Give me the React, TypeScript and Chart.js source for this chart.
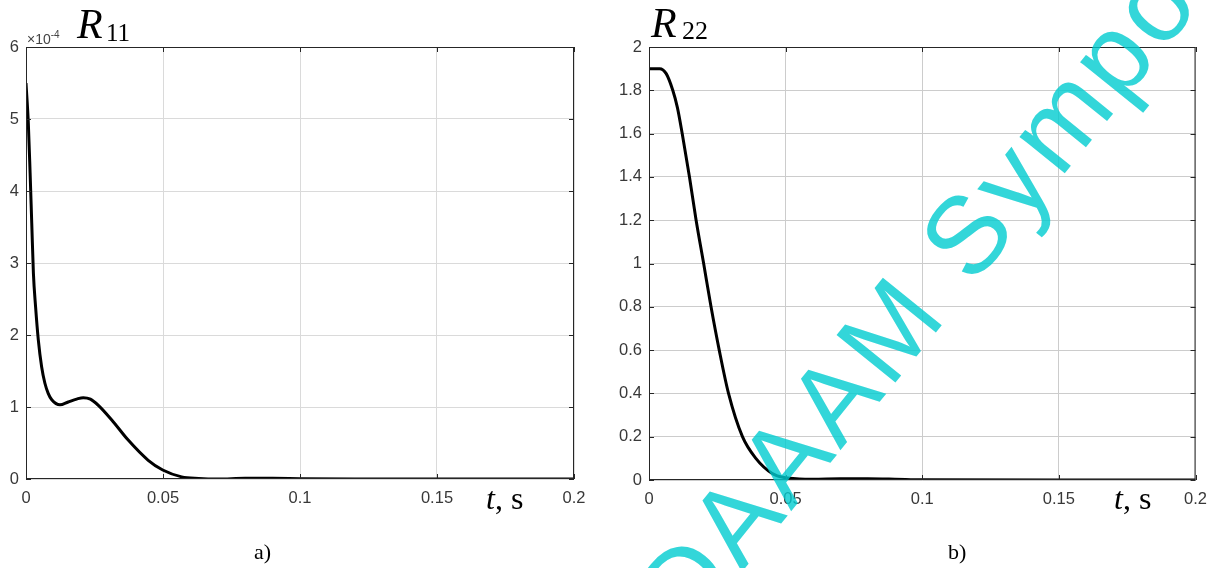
import React, { useEffect, useRef } from "react";
import { Chart, registerables } from "chart.js";

Chart.register(...registerables);

// ---- data ----
const X_TICKS = [0, 0.05, 0.1, 0.15, 0.2];
const X_TICK_LABELS = ["0", "0.05", "0.1", "0.15", "0.2"];

// R11 (values in units of 1e-4)
const T11 = [0, 0.00085, 0.0015, 0.0021, 0.0027, 0.0035, 0.0045, 0.0057, 0.0069, 0.0081, 0.0094, 0.0124, 0.0154, 0.0185, 0.0209, 0.0235, 0.0265, 0.0313, 0.0373, 0.0446, 0.0499, 0.0568, 0.063, 0.07, 0.08, 0.09, 0.1, 0.12, 0.15, 0.2];
const R11 = [5.5, 4.94, 4.25, 3.55, 2.86, 2.39, 1.93, 1.56, 1.33, 1.19, 1.1, 1.03, 1.07, 1.11, 1.13, 1.11, 1.02, 0.82, 0.54, 0.26, 0.125, 0.03, 0.008, 0.0, 0.01, 0.01, 0.005, 0.0, 0.0, 0.0];
const Y11_TICKS = [0, 1, 2, 3, 4, 5, 6];

// R22
const T22 = [0, 0.002, 0.0039, 0.0063, 0.0087, 0.0104, 0.01215, 0.01481, 0.01724, 0.02, 0.0227, 0.0257, 0.0291, 0.0342, 0.0391, 0.0451, 0.05, 0.055, 0.06, 0.07, 0.08, 0.09, 0.1, 0.15, 0.2];
const R22 = [1.9, 1.9, 1.9, 1.877, 1.8, 1.72, 1.6, 1.4, 1.2, 1.0, 0.8, 0.6, 0.4, 0.2, 0.1, 0.03, 0.01, 0.005, 0.004, 0.006, 0.006, 0.004, 0.001, 0, 0];
const Y22_TICKS = [0, 0.2, 0.4, 0.6, 0.8, 1, 1.2, 1.4, 1.6, 1.8, 2];
const Y22_TICK_LABELS = ["0", "0.2", "0.4", "0.6", "0.8", "1", "1.2", "1.4", "1.6", "1.8", "2"];

const AXIS_COLOR = "#262626";
const TICK_FONT = { family: "'Liberation Sans', Arial, sans-serif", size: 16.5 };

const boxPlugin = {
  id: "boxTicks",
  afterDatasetsDraw(chart: any) {
    const { ctx, chartArea, scales } = chart;
    const { left, right, top, bottom } = chartArea;
    ctx.save();
    ctx.strokeStyle = AXIS_COLOR;
    ctx.lineWidth = 1;
    ctx.strokeRect(left + 0.5, top + 0.5, right - left - 1, bottom - top - 1);
    ctx.beginPath();
    scales.x.ticks.forEach((t: any) => {
      const px = Math.round(scales.x.getPixelForValue(t.value)) + 0.5;
      ctx.moveTo(px, bottom);
      ctx.lineTo(px, bottom - 5);
      ctx.moveTo(px, top);
      ctx.lineTo(px, top + 5);
    });
    scales.y.ticks.forEach((t: any) => {
      const py = Math.round(scales.y.getPixelForValue(t.value)) + 0.5;
      ctx.moveTo(left, py);
      ctx.lineTo(left + 5, py);
      ctx.moveTo(right, py);
      ctx.lineTo(right - 5, py);
    });
    ctx.stroke();
    ctx.restore();
  },
};

type PlotProps = {
  t: number[];
  v: number[];
  yTicks: number[];
  yLabels: string[];
  yMax: number;
  width: number;
  height: number;
  yAxisW: number;
  padRight: number;
  padTop: number;
  padBottom: number;
  gridColor: string;
};

function Plot(p: PlotProps) {
  const ref = useRef<HTMLCanvasElement | null>(null);
  useEffect(() => {
    if (!ref.current) return;
    const data = p.t.map((x, i) => ({ x, y: p.v[i] }));
    const chart = new Chart(ref.current, {
      type: "line",
      data: {
        datasets: [
          {
            data,
            borderColor: "#000000",
            borderWidth: 3,
            pointRadius: 0,
            cubicInterpolationMode: "monotone",
            fill: false,
          },
        ],
      },
      options: {
        animation: false,
        responsive: false,
        devicePixelRatio: 1,
        layout: { padding: { left: 0, right: p.padRight, top: p.padTop, bottom: p.padBottom } },
        plugins: { legend: { display: false }, tooltip: { enabled: false } },
        scales: {
          x: {
            type: "linear",
            min: 0,
            max: 0.2,
            afterBuildTicks: (s: any) => {
              s.ticks = X_TICKS.map((value) => ({ value }));
            },
            afterFit: (s: any) => {
              s.height = 30;
            },
            ticks: {
              callback: (_v: any, i: number) => X_TICK_LABELS[i],
              font: TICK_FONT,
              color: "#383838",
              padding: 10,
              maxRotation: 0,
              autoSkip: false,
            },
            grid: { color: p.gridColor, drawTicks: false },
            border: { display: false },
          },
          y: {
            type: "linear",
            min: 0,
            max: p.yMax,
            afterBuildTicks: (s: any) => {
              s.ticks = p.yTicks.map((value) => ({ value }));
            },
            afterFit: (s: any) => {
              s.width = p.yAxisW;
            },
            ticks: {
              callback: (_v: any, i: number) => p.yLabels[i],
              font: TICK_FONT,
              color: "#383838",
              padding: 7,
              autoSkip: false,
            },
            grid: { color: p.gridColor, drawTicks: false },
            border: { display: false },
          },
        },
      },
      plugins: [boxPlugin],
    });
    return () => chart.destroy();
  }, []);
  return <canvas ref={ref} width={p.width} height={p.height} style={{ display: "block", width: p.width, height: p.height }} />;
}

const serif = "'Liberation Serif', 'Times New Roman', serif";
const sans = "'Liberation Sans', Arial, sans-serif";

function Txt(props: { x: number; y: number; size: number; italic?: boolean; family?: string; color?: string; children: any }) {
  return (
    <div
      style={{
        position: "absolute",
        left: props.x,
        top: props.y,
        fontSize: props.size,
        lineHeight: 1,
        fontStyle: props.italic ? "italic" : "normal",
        fontFamily: props.family || serif,
        color: props.color || "#000",
        whiteSpace: "nowrap",
      }}
    >
      {props.children}
    </div>
  );
}

export default function App() {
  return (
    <div style={{ position: "fixed", left: 0, top: 0, width: 1217, height: 568, background: "#fff", overflow: "hidden" }}>
      <div style={{ position: "absolute", left: 0, top: 0 }}>
        <Plot t={T11} v={R11} yTicks={Y11_TICKS} yLabels={Y11_TICKS.map(String)} yMax={6} width={608} height={568} yAxisW={26} padRight={34} padTop={47} padBottom={59} gridColor="#dadada" />
      </div>
      <div style={{ position: "absolute", left: 608, top: 0 }}>
        <Plot t={T22} v={R22} yTicks={Y22_TICKS} yLabels={Y22_TICK_LABELS} yMax={2} width={609} height={568} yAxisW={41} padRight={18} padTop={47} padBottom={58} gridColor="#cccccc" />
      </div>

      {/* left labels */}
      <Txt x={27} y={30} size={14} family={sans} color="#444">
        ×10<sup style={{ fontSize: 10, verticalAlign: 6 }}>-4</sup>
      </Txt>
      <Txt x={77} y={3} size={42} italic>R</Txt>
      <Txt x={106} y={20} size={25}>11</Txt>
      <Txt x={486} y={482} size={32}>
        <i>t</i>, s
      </Txt>
      <Txt x={254} y={541} size={22}>a)</Txt>

      {/* right labels */}
      <Txt x={651} y={2} size={42} italic>R</Txt>
      <Txt x={682} y={18} size={26}>22</Txt>
      <Txt x={1114} y={482} size={32}>
        <i>t</i>, s
      </Txt>
      <Txt x={948} y={541} size={22}>b)</Txt>

      {/* watermark */}
      <div
        style={{
          position: "absolute",
          left: 659,
          top: 614,
          transformOrigin: "0 0",
          transform: "rotate(-51deg) translateY(-50%)",
          fontFamily: sans,
          fontSize: 110,
          letterSpacing: 5,
          lineHeight: 1,
          color: "rgba(0,204,207,0.8)",
          whiteSpace: "nowrap",
          pointerEvents: "none",
        }}
      >
        DAAAM Symposium
      </div>
    </div>
  );
}
